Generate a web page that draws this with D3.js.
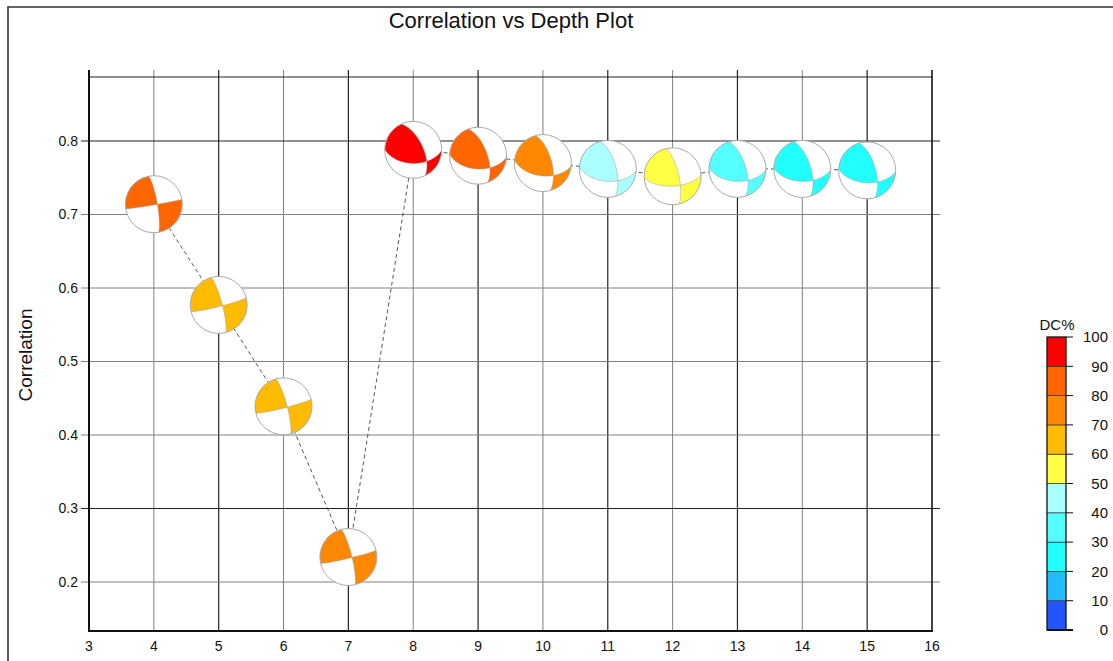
<!DOCTYPE html>
<html>
<head>
<meta charset="utf-8">
<script src="https://cdnjs.cloudflare.com/ajax/libs/d3/7.8.5/d3.min.js"></script>
<style>
  body { margin: 0; background: #fff; }
  text { font-family: "Liberation Sans", Arial, sans-serif; fill: #111; }
</style>
</head>
<body>
<div id="chart"></div>
<script>
var
    width = 1113,
    height = 661;

// depth (km), correlation, DC% and the focal mechanism of each solution
var depths       = [4, 5, 6, 7, 8, 9, 10, 11, 12, 13, 14, 15];
var correlations = [0.714, 0.577, 0.439, 0.234, 0.788, 0.780, 0.770, 0.762, 0.752, 0.762, 0.762, 0.760];
var dcPercent    = [85, 65, 63, 75, 93, 84, 76, 45, 55, 36, 27, 27];
var strikes      = [350, 345, 345, 346, 335, 340, 345, 345, 347, 343, 343, 344];
var dips         = [80, 80, 80, 80, 62, 64, 65, 66, 72, 66, 66, 66];
var rakes        = [178, 175, 175, 176, 134, 136, 138, 140, 150, 140, 140, 140];

var xTicks = [3, 4, 5, 6, 7, 8, 9, 10, 11, 12, 13, 14, 15, 16];
var yTicks = [0.2, 0.3, 0.4, 0.5, 0.6, 0.7, 0.8];
var xMajor = [3, 5, 7, 9, 11, 13, 15];
var yMajor = [0.3, 0.8];

var dcTicks  = [0, 10, 20, 30, 40, 50, 60, 70, 80, 90, 100];
var dcColors = ["#2255ff", "#22bbff", "#22ffff", "#55ffff", "#aaffff",
                "#ffff44", "#ffbb00", "#ff8800", "#ff6600", "#ff0000"];

var plot = {left: 89, right: 932, top: 77, bottom: 631};
var R = 28.5;

var svg = d3.select("#chart")
        .append("svg")
        .attr("width", width)
        .attr("height", height);

var defs = svg.append("defs");

var x = d3.scaleLinear().domain([3, 16]).range([plot.left, plot.right]);
var y = d3.scaleLinear().domain([0.2, 0.8]).range([582, 141]);

var color = d3.scaleThreshold()
    .domain(dcTicks.slice(1, -1))
    .range(dcColors);

// outer frame
svg.append("path")
    .attr("d", "M8," + height + "V7H" + width)
    .attr("fill", "none")
    .attr("stroke", "#333")
    .attr("stroke-width", 1.6);

svg.append("text")
    .attr("x", 511)
    .attr("y", 28)
    .attr("text-anchor", "middle")
    .style("font-size", "22px")
    .text("Correlation vs Depth Plot");

// grid
svg.append("g")
  .selectAll("line")
    .data(xTicks)
  .enter().append("line")
    .attr("x1", d => x(d)).attr("x2", d => x(d))
    .attr("y1", plot.top - 7).attr("y2", plot.bottom)
    .attr("stroke", d => xMajor.indexOf(d) >= 0 ? "#222" : "#808080")
    .attr("stroke-width", d => xMajor.indexOf(d) >= 0 ? 1.2 : 1);

svg.append("g")
  .selectAll("line")
    .data(yTicks)
  .enter().append("line")
    .attr("x1", plot.left - 8).attr("x2", plot.right + 8)
    .attr("y1", d => y(d)).attr("y2", d => y(d))
    .attr("stroke", d => yMajor.indexOf(d) >= 0 ? "#222" : "#808080")
    .attr("stroke-width", d => yMajor.indexOf(d) >= 0 ? 1.2 : 1);

// frame of the plot
svg.append("line")
    .attr("x1", plot.left).attr("x2", plot.right)
    .attr("y1", plot.top).attr("y2", plot.top)
    .attr("stroke", "#222").attr("stroke-width", 1.2);
svg.append("line")
    .attr("x1", plot.left).attr("x2", plot.left)
    .attr("y1", plot.top - 7).attr("y2", plot.bottom)
    .attr("stroke", "#111").attr("stroke-width", 2);
svg.append("line")
    .attr("x1", plot.right).attr("x2", plot.right)
    .attr("y1", plot.top - 7).attr("y2", plot.bottom)
    .attr("stroke", "#111").attr("stroke-width", 1.4);
svg.append("line")
    .attr("x1", plot.left - 1).attr("x2", plot.right + 1)
    .attr("y1", plot.bottom).attr("y2", plot.bottom)
    .attr("stroke", "#111").attr("stroke-width", 2.2);

svg.append("g")
  .selectAll("text")
    .data(xTicks)
  .enter().append("text")
    .attr("x", d => x(d))
    .attr("y", 651)
    .attr("text-anchor", "middle")
    .style("font-size", "14px")
    .text(d => d);

svg.append("g")
  .selectAll("text")
    .data(yTicks)
  .enter().append("text")
    .attr("x", 78)
    .attr("y", d => y(d))
    .attr("dy", "0.35em")
    .attr("text-anchor", "end")
    .style("font-size", "14px")
    .text(d => d3.format(".1f")(d));

svg.append("text")
    .attr("transform", "translate(32,355) rotate(-90)")
    .attr("text-anchor", "middle")
    .style("font-size", "19px")
    .text("Correlation");

// dashed line through the solutions
var points = depths.map((d, i) => [x(d), y(correlations[i])]);
svg.append("path")
    .attr("d", d3.line()(points))
    .attr("fill", "none")
    .attr("stroke", "#444")
    .attr("stroke-width", 0.9)
    .attr("stroke-dasharray", "4,3");

// --- beachballs: lower hemisphere, equal area ---
var rad = Math.PI / 180;

function dot(a, b) { return a[0]*b[0] + a[1]*b[1] + a[2]*b[2]; }
function cross(a, b) {
  return [a[1]*b[2] - a[2]*b[1], a[2]*b[0] - a[0]*b[2], a[0]*b[1] - a[1]*b[0]];
}
function unit(a) { var l = Math.sqrt(dot(a, a)); return [a[0]/l, a[1]/l, a[2]/l]; }
function neg(a) { return [-a[0], -a[1], -a[2]]; }

// x = north, y = east, z = down
function project(p) {
  var th = Math.acos(Math.max(-1, Math.min(1, p[2]))),
      r = R * Math.SQRT2 * Math.sin(th / 2),
      az = Math.atan2(p[1], p[0]);
  return [r * Math.sin(az), -r * Math.cos(az)];
}

function greatCircle(n) {
  var a = unit([n[1], -n[0], 0]);
  var b = unit(cross(n, a));
  if (b[2] < 0) b = neg(b);
  return d3.range(0, 181, 3).map(function(t) {
    t = t * rad;
    return project([Math.cos(t)*a[0] + Math.sin(t)*b[0],
                    Math.cos(t)*a[1] + Math.sin(t)*b[1],
                    Math.cos(t)*a[2] + Math.sin(t)*b[2]]);
  });
}

// part of the lower hemisphere where n.x > 0
function halfRegion(n) {
  var a = unit([n[1], -n[0], 0]);
  var pts = greatCircle(n);
  var a0 = Math.atan2(a[1], a[0]) + Math.PI;
  var mid = a0 + Math.PI / 2;
  var sgn = (n[0]*Math.cos(mid) + n[1]*Math.sin(mid)) > 0 ? 1 : -1;
  d3.range(0, 181, 3).forEach(function(t) {
    var al = a0 + sgn * t * rad;
    pts.push([R * Math.sin(al), -R * Math.cos(al)]);
  });
  return d3.line()(pts) + "Z";
}

function mechanism(strike, dip, rake) {
  var f = strike * rad, dl = dip * rad, l = rake * rad;
  var n = [-Math.sin(dl)*Math.sin(f), Math.sin(dl)*Math.cos(f), -Math.cos(dl)];
  var s = [Math.cos(l)*Math.cos(f) + Math.cos(dl)*Math.sin(l)*Math.sin(f),
           Math.cos(l)*Math.sin(f) - Math.cos(dl)*Math.sin(l)*Math.cos(f),
           -Math.sin(l)*Math.sin(dl)];
  return {n: n, s: s};
}

var balls = svg.append("g")
  .selectAll("g")
    .data(depths)
  .enter().append("g")
    .attr("transform", (d, i) => "translate(" + x(d) + "," + y(correlations[i]) + ")");

balls.each(function(d, i) {
  var g = d3.select(this);
  var m = mechanism(strikes[i], dips[i], rakes[i]);
  var c = color(dcPercent[i]);

  g.append("circle").attr("r", R).attr("fill", "#fff");

  [[m.n, m.s], [neg(m.n), neg(m.s)]].forEach(function(pair, k) {
    var id = "bb" + i + "_" + k;
    defs.append("clipPath").attr("id", id)
      .append("path").attr("d", halfRegion(pair[0]));
    g.append("g")
        .attr("clip-path", "url(#" + id + ")")
      .append("path")
        .attr("d", halfRegion(pair[1]))
        .attr("fill", c);
  });

  [m.n, m.s].forEach(function(v) {
    g.append("path")
        .attr("d", d3.line()(greatCircle(v)))
        .attr("fill", "none")
        .attr("stroke", "#999")
        .attr("stroke-width", 0.5);
  });

  g.append("circle")
      .attr("r", R)
      .attr("fill", "none")
      .attr("stroke", "#aaa")
      .attr("stroke-width", 1);
});

// --- colour bar ---
var cb = d3.scaleLinear().domain([0, 100]).range([630, 337]);
var cbar = svg.append("g");

cbar.selectAll("rect")
    .data(dcColors)
  .enter().append("rect")
    .attr("x", 1047)
    .attr("width", 19)
    .attr("y", (d, i) => cb(dcTicks[i + 1]))
    .attr("height", (d, i) => cb(dcTicks[i]) - cb(dcTicks[i + 1]))
    .attr("fill", d => d)
    .attr("stroke", "#333")
    .attr("stroke-width", 0.7);

cbar.append("rect")
    .attr("x", 1047).attr("y", cb(100))
    .attr("width", 19).attr("height", cb(0) - cb(100))
    .attr("fill", "none")
    .attr("stroke", "#111")
    .attr("stroke-width", 1);

cbar.selectAll("line")
    .data(dcTicks)
  .enter().append("line")
    .attr("x1", 1066).attr("x2", 1073)
    .attr("y1", d => cb(d)).attr("y2", d => cb(d))
    .attr("stroke", "#111")
    .attr("stroke-width", 1);

cbar.append("line")
    .attr("x1", 1047).attr("x2", 1073)
    .attr("y1", cb(0)).attr("y2", cb(0))
    .attr("stroke", "#111")
    .attr("stroke-width", 2);

cbar.selectAll("text")
    .data(dcTicks)
  .enter().append("text")
    .attr("x", 1108)
    .attr("y", d => cb(d))
    .attr("dy", "0.35em")
    .attr("text-anchor", "end")
    .style("font-size", "15px")
    .text(d => d);

cbar.append("text")
    .attr("x", 1057)
    .attr("y", 330)
    .attr("text-anchor", "middle")
    .style("font-size", "15px")
    .text("DC%");
</script>
</body>
</html>
